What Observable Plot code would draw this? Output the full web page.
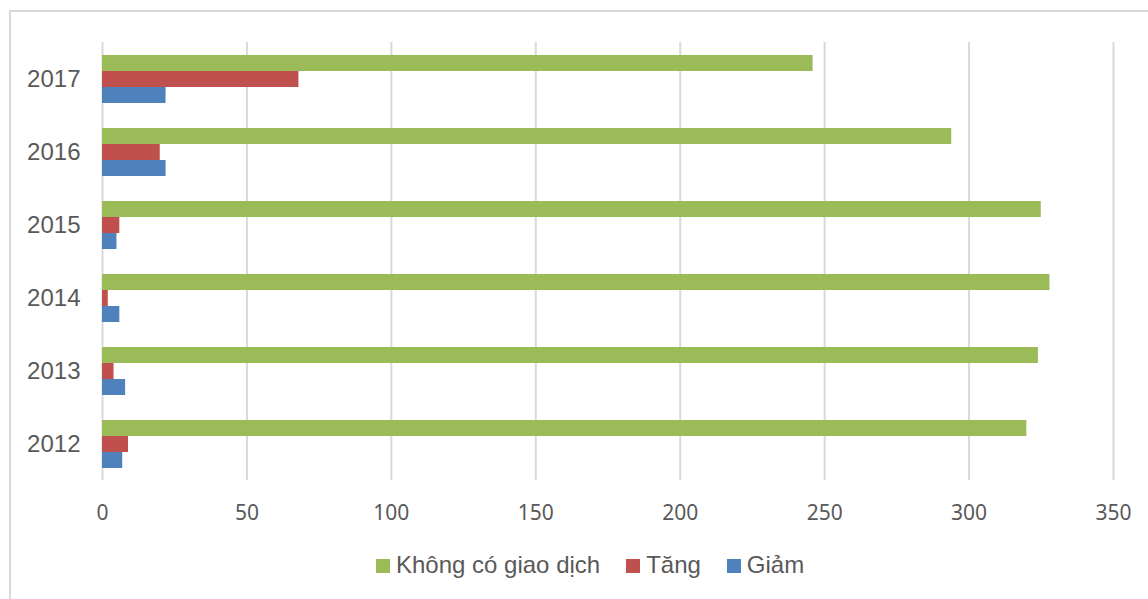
<!DOCTYPE html>
<html>
<head>
<meta charset="utf-8">
<script src="https://cdn.jsdelivr.net/npm/d3@7"></script>
<script src="https://cdn.jsdelivr.net/npm/@observablehq/plot@0.6"></script>
<style>
  body { margin: 0; background: #fff; }
  #wrap { position: relative; width: 1148px; height: 599px; overflow: hidden; background: #fff; }
  #frame { position: absolute; left: 9px; top: 10px; width: 1170px; height: 640px; border: 2px solid #d9d9d9; box-sizing: border-box; }
  #chart { position: absolute; left: 0; top: 0; }
  #chart g[aria-label="x-axis tick label"] text { font-family: "Noto Sans", "Open Sans", sans-serif; font-size: 21px; }
  #chart g[aria-label="fy-axis tick label"] text { font-family: "Liberation Sans", Arial, sans-serif; font-size: 24px; }
  #legend { position: absolute; left: 376px; top: 551px; height: 28px; display: flex; align-items: center;
            font-family: "Liberation Sans", Arial, sans-serif; font-size: 24px; color: #595959; white-space: nowrap; }
  .item { display: flex; align-items: center; margin-right: 26px; }
  .sw { width: 14px; height: 14px; margin-right: 6px; margin-top: 2px; }
</style>
</head>
<body>
<div id="wrap">
  <div id="frame"></div>
  <div id="chart"></div>
  <div id="legend"></div>
</div>
<script>
// Years shown top to bottom
const years = ["2017", "2016", "2015", "2014", "2013", "2012"];
// Series names (legend order) and colours
const seriesNames = ["Không có giao dịch", "Tăng", "Giảm"];
const seriesColors = ["#9BBB59", "#C0504D", "#4F81BD"];
// Values per year, same order as `years`
const noTrade  = [246, 294, 325, 328, 324, 320];
const increase = [68, 20, 6, 2, 4, 9];
const decrease = [22, 22, 5, 6, 8, 7];
// Axis ticks
const xTicks = [0, 50, 100, 150, 200, 250, 300, 350];

const rows = [];
years.forEach((yr, i) => {
  rows.push({year: yr, series: seriesNames[0], value: noTrade[i]});
  rows.push({year: yr, series: seriesNames[1], value: increase[i]});
  rows.push({year: yr, series: seriesNames[2], value: decrease[i]});
});

const chart = Plot.plot({
  width: 1148,
  height: 540,
  marginLeft: 102,
  marginRight: 35,
  marginTop: 40,
  marginBottom: 58,
  style: {background: "transparent", color: "#595959"},
  x: {domain: [0, 350], axis: null},
  y: {domain: seriesNames, paddingInner: 0, paddingOuter: 0.755, axis: null},
  fy: {domain: years, padding: 0, axis: null, label: null},
  color: {domain: seriesNames, range: seriesColors},
  marks: [
    Plot.gridX(xTicks, {stroke: "#d9d9d9", strokeWidth: 2, strokeOpacity: 1}),
    Plot.barX(rows, {fy: "year", y: "series", x: "value", fill: "series"}),
    Plot.axisX({ticks: xTicks, anchor: "bottom", tickSize: 0, tickPadding: 25, fill: "#595959", label: null}),
    Plot.axisFy({anchor: "left", tickSize: 0, tickPadding: 22, fill: "#595959", label: null})
  ]
});
document.getElementById("chart").appendChild(chart);

const legend = document.getElementById("legend");
seriesNames.forEach((name, i) => {
  const item = document.createElement("div");
  item.className = "item";
  const sw = document.createElement("span");
  sw.className = "sw";
  sw.style.background = seriesColors[i];
  const label = document.createElement("span");
  label.textContent = name;
  item.appendChild(sw);
  item.appendChild(label);
  legend.appendChild(item);
});
</script>
</body>
</html>
